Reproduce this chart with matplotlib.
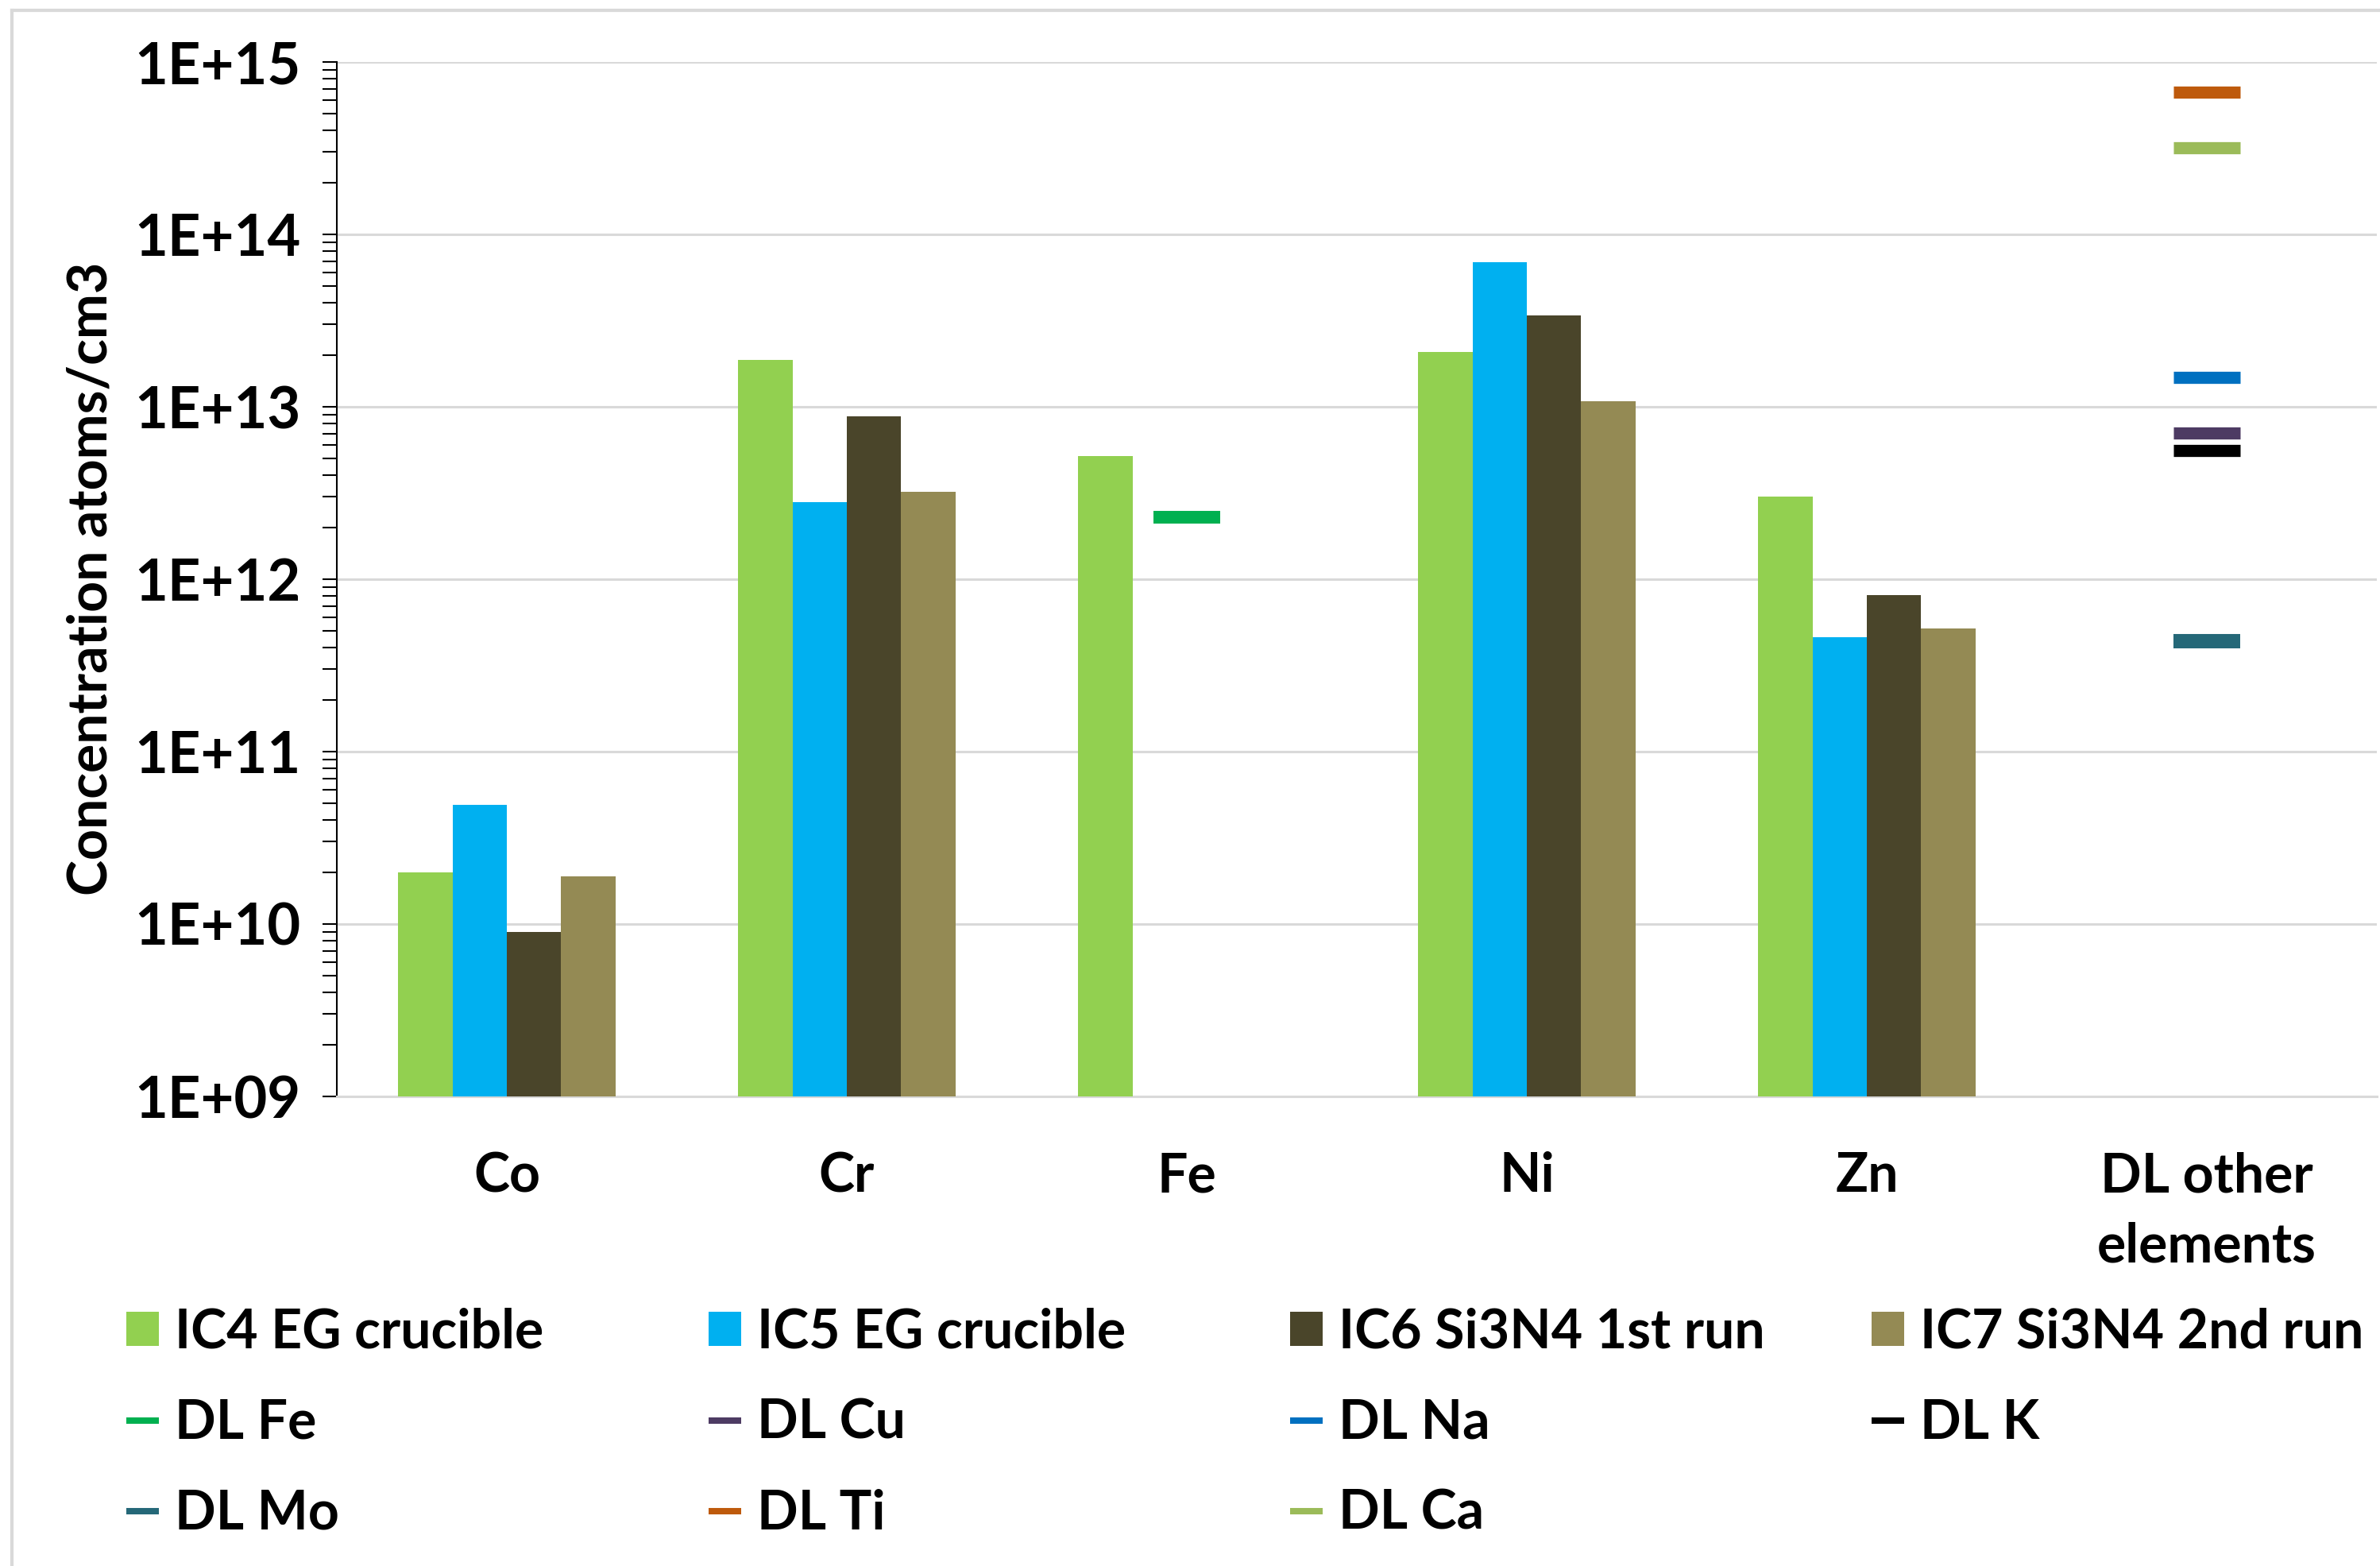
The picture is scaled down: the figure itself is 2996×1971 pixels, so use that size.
import numpy as np
import matplotlib
matplotlib.use("Agg")
import matplotlib.pyplot as plt
from matplotlib.patches import Patch
from matplotlib.lines import Line2D
from matplotlib.ticker import LogLocator, NullFormatter, FixedLocator, FixedFormatter

# ---------------- data ----------------
categories = ["Co", "Cr", "Fe", "Ni", "Zn", "DL other\nelements"]
series_names = ["IC4 EG crucible", "IC5 EG crucible", "IC6 Si3N4 1st run", "IC7 Si3N4 2nd run"]
ic4 = [2.0e10, 1.87e13, 5.2e12, 2.07e13, 3.0e12, np.nan]
ic5 = [4.9e10, 2.8e12, np.nan, 6.9e13, 4.6e11, np.nan]
ic6 = [9.0e9, 8.85e12, np.nan, 3.4e13, 8.1e11, np.nan]
ic7 = [1.9e10, 3.2e12, np.nan, 1.08e13, 5.2e11, np.nan]

dl_names = ["DL Fe", "DL Cu", "DL Na", "DL K", "DL Mo", "DL Ti", "DL Ca"]
dl_category = [2, 5, 5, 5, 5, 5, 5]
dl_values = [2.3e12, 7.07e12, 1.48e13, 5.6e12, 4.35e11, 6.7e14, 3.17e14]

ytick_values = [1e9, 1e10, 1e11, 1e12, 1e13, 1e14, 1e15]
ytick_labels = ["1E+09", "1E+10", "1E+11", "1E+12", "1E+13", "1E+14", "1E+15"]

# ---------------- styles ----------------
bar_colors = ["#92D050", "#00B0F0", "#4A452A", "#948A54"]
dl_colors = ["#00B050", "#4D3B63", "#0070C0", "#000000", "#256878", "#BE5A0C", "#9BBB59"]
dl_widths = [11.5, 11, 11, 11, 13, 11, 11]

plt.rcParams['font.family'] = ['Lato', 'DejaVu Sans']
plt.rcParams['font.weight'] = 'bold'
FS = 49

fig = plt.figure(figsize=(29.96, 19.71), dpi=100)
ax = fig.add_axes([424/2996, 1-1380/1971, (2992-424)/2996, (1380-78)/1971])

x = np.arange(len(categories))
bw = 0.16
offsets = [-1.5, -0.5, 0.5, 1.5]
base = 1e9
handles_bar = []
for vals, name, col, off in zip([ic4, ic5, ic6, ic7], series_names, bar_colors, offsets):
    v = np.array(vals, dtype=float)
    ax.bar(x + off*bw, v - base, width=bw, color=col, bottom=base, zorder=3)
    handles_bar.append(Patch(facecolor=col, edgecolor='none', label=name))

half = 0.098
handles_dl = []
for name, cat, val, col, lw in zip(dl_names, dl_category, dl_values, dl_colors, dl_widths):
    ax.hlines(val, x[cat]-half, x[cat]+half, colors=col, linewidth=lw, zorder=4, capstyle='butt')
    handles_dl.append(Line2D([0], [0], color=col, lw=5.8, solid_capstyle='butt', label=name))

ax.set_yscale('log')
ax.set_ylim(1e9, 1e15)
ax.set_xlim(-0.5, len(categories)-0.5)

ax.yaxis.set_major_locator(FixedLocator(ytick_values))
ax.yaxis.set_major_formatter(FixedFormatter(ytick_labels))
ax.yaxis.set_minor_locator(LogLocator(base=10, subs=np.arange(2, 10)))
ax.yaxis.set_minor_formatter(NullFormatter())
ax.tick_params(axis='y', which='both', direction='out', length=13, width=1.5, color='black',
               labelsize=52, pad=20)
ax.set_xticks(x)
ax.set_xticklabels(categories, fontsize=FS, fontweight='bold', linespacing=1.5)
ax.tick_params(axis='x', length=0, pad=50)

ax.grid(axis='y', which='major', color='#D9D9D9', linewidth=2.2, zorder=0)
ax.set_axisbelow(True)
for s in ['top', 'right']:
    ax.spines[s].set_visible(False)
ax.spines['left'].set_color('black')
ax.spines['left'].set_linewidth(1.5)
ax.spines['bottom'].set_color('#D9D9D9')
ax.spines['bottom'].set_linewidth(2.2)

fig.text(115/2996, 1-728/1971, "Concentration atoms/cm3", rotation=90, ha='center', va='center',
         fontsize=FS, fontweight='bold')

# legend: four columns, laid out row-wise like the reference
cols = [
    [handles_bar[0], handles_dl[0], handles_dl[4]],
    [handles_bar[1], handles_dl[1], handles_dl[5]],
    [handles_bar[2], handles_dl[2], handles_dl[6]],
    [handles_bar[3], handles_dl[3]],
]
col_x = [159/2996, 892/2996, 1624/2996, 2356/2996]
for hs, cx in zip(cols, col_x):
    fig.legend(handles=hs, loc='upper left', bbox_to_anchor=(cx, 0.165),
               frameon=False, prop={'weight': 'bold', 'size': FS},
               handlelength=0.6, handleheight=0.6, handletextpad=0.3,
               labelspacing=0.75, borderpad=0, borderaxespad=0)

# outer chart border (top and left visible)
fig.add_artist(Line2D([15/2996, 1.0], [1-13/1971, 1-13/1971], transform=fig.transFigure,
                      color='#D9D9D9', lw=3))
fig.add_artist(Line2D([15/2996, 15/2996], [0, 1-13/1971], transform=fig.transFigure,
                      color='#D9D9D9', lw=3))

fig.savefig("out.png", dpi=100, facecolor='white')
